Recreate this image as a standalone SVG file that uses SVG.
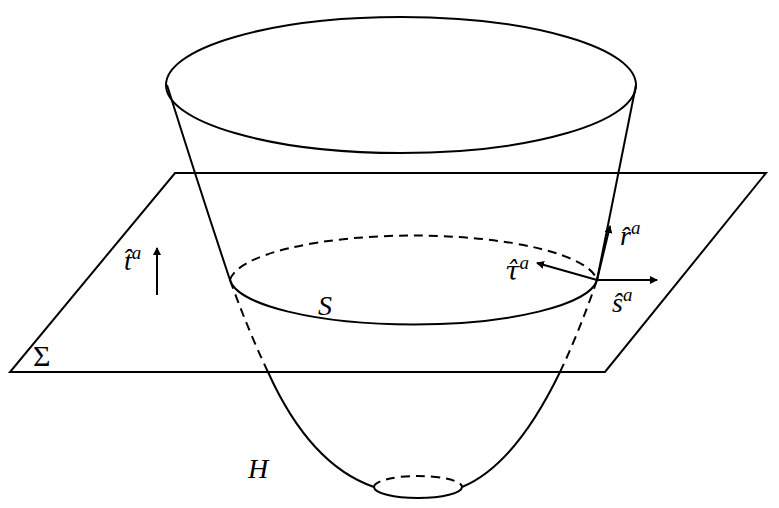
<svg xmlns="http://www.w3.org/2000/svg" width="779" height="508" viewBox="0 0 779 508">
<style>
.l{fill:none;stroke:#000;stroke-width:2}
.d{fill:none;stroke:#000;stroke-width:2;stroke-dasharray:9 6}
.t{font-family:"Liberation Serif","DejaVu Serif",serif;font-style:italic;font-size:28px}
</style>
<defs><marker id="a" markerWidth="8" markerHeight="8" refX="7" refY="4" orient="auto" markerUnits="userSpaceOnUse" viewBox="0 0 8 8"><path d="M0,0L8,4L0,8z"/></marker></defs>
<rect width="779" height="508" fill="#fff"/>
<g id="plane"><path class="l" d="M175,173H766L605,372H10Z"/></g>
<g id="surface">
<path class="l" d="M167,85Q200,190 230,280"/>
<path class="d" d="M230,280Q248,330 268,372"/>
<path class="l" d="M268,372Q310,465 374,487"/>
<path class="l" d="M636,85Q615,190 597,280"/>
<path class="d" d="M597,280Q580,330 560,372"/>
<path class="l" d="M560,372Q515,465 462,487"/>
<ellipse class="l" cx="401" cy="85" rx="235" ry="68"/>
<path class="d" d="M230,280A184,48 0 0 1 597,280"/>
<path class="l" d="M230,280A184,48 0 0 0 597,280"/>
<path class="d" d="M374,487A44,11 0 0 1 462,487"/>
<path class="l" d="M374,487A44,11 0 0 0 462,487"/>
</g>
<g id="vectors">
<path class="l" d="M157,295V248" marker-end="url(#a)"/>
<path class="l" d="M597,280L537,263" marker-end="url(#a)"/>
<path class="l" d="M597,280H657" marker-end="url(#a)"/>
<path class="l" d="M597,280L610,226" marker-end="url(#a)"/>
</g>
<g id="labels">
<text class="t" x="124" y="270">t̂<tspan font-size="19" dy="-11">a</tspan></text>
<text class="t" x="505" y="280" style="font-family:'DejaVu Serif',serif;font-size:26px">τ̂<tspan font-family="Liberation Serif" font-size="19" dy="-11">a</tspan></text>
<text class="t" x="620" y="245">r̂<tspan font-size="19" dy="-11">a</tspan></text>
<text class="t" x="612" y="312">ŝ<tspan font-size="19" dy="-11">a</tspan></text>
<text class="t" x="318" y="315" font-size="32">S</text>
<text class="t" x="33" y="366" style="font-style:normal;font-size:30px">Σ</text>
<text class="t" x="248" y="478" font-size="32">H</text>
</g>
</svg>
